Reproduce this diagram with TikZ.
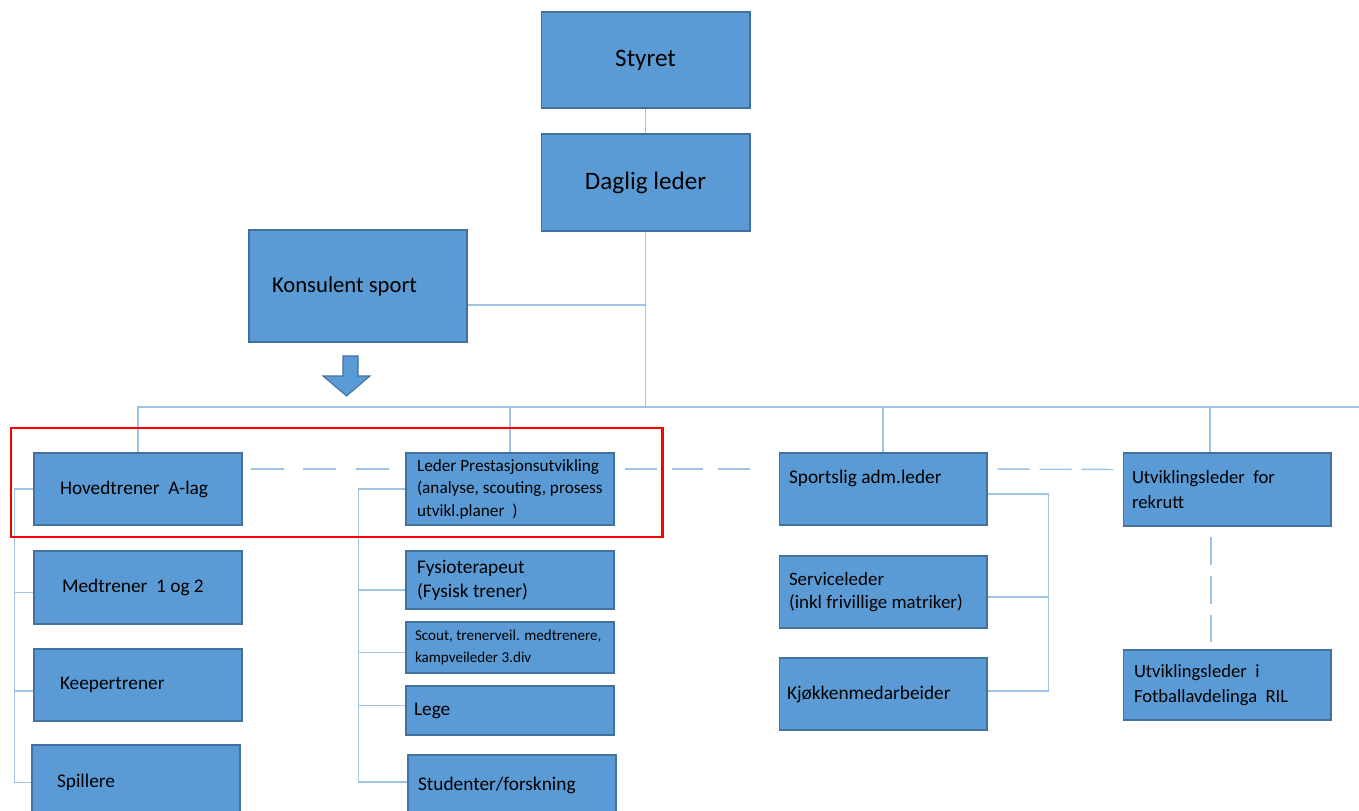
\documentclass[tikz,border=0pt]{standalone}
\usepackage{fontspec}
\setmainfont{Carlito}
\definecolor{boxfill}{RGB}{91,155,213}
\definecolor{boxedge}{RGB}{65,113,156}
\definecolor{linkblue}{RGB}{157,195,230}
\tikzset{
    unit/.style={draw=boxedge, fill=boxfill, line width=0.6pt, inner ysep=0pt,
        minimum width=4.16cm, minimum height=1.44cm, align=left,
        font=\fontsize{11}{13.6}\selectfont,
        execute at begin node={\spaceskip=0pt\xspaceskip=0pt\hyphenpenalty=10000\relax}},
    link/.style={draw=linkblue, line width=0.8pt},
    peer/.style={link, dash pattern=on 0.66cm off 0.4cm},
    frame/.style={draw=red, line width=1.7pt}
}
\begin{document}
\begin{tikzpicture}[x=0.02cm, y=-0.02cm]
    \useasboundingbox (0,0) rectangle (1359,811);

    % top of the tree
    \node[unit, minimum width=4.18cm, minimum height=1.92cm, align=center,
        font=\fontsize{14.3}{17}\selectfont] (styret) at (645.5,60) {Styret};
    \node[unit, minimum width=4.18cm, minimum height=1.94cm, align=center,
        font=\fontsize{14.3}{17}\selectfont] (daglig) at (645.5,182.5) {Daglig leder};
    \node[unit, minimum width=4.36cm, minimum height=2.24cm, inner xsep=0.46cm,
        text width=3.44cm, font=\fontsize{12.9}{15}\selectfont] (konsulent) at (358,286) {Konsulent sport\\[0.2cm]};

    % row of leaders
    \node[unit, inner xsep=0.52cm, text width=3.12cm] (hoved) at (138,489) {Hovedtrener\ \ A-lag};
    \node[unit, inner xsep=0.22cm, text width=3.72cm,
        font=\fontsize{9.8}{12.8}\selectfont] (leder) at (510,489)
        {Leder Prestasjonsutvikling\\(analyse, scouting, prosess\\utvikl.planer\ \ )};
    \node[unit, inner xsep=0.2cm, text width=3.76cm] (sport) at (883,489) {Sportslig adm.leder\\ \mbox{}};
    \node[unit, inner xsep=0.18cm, text width=3.8cm, minimum height=1.46cm,
        font=\fontsize{10.6}{14.6}\selectfont] (rekrutt) at (1227,489.5) {Utviklingsleder\ \ for\\rekrutt};

    % under Hovedtrener
    \node[unit, inner xsep=0.56cm, text width=3.04cm, minimum height=1.46cm] (med) at (138,587.5) {Medtrener\ \ 1 og 2};
    \node[unit, inner xsep=0.52cm, text width=3.12cm] (keeper) at (138,685) {Keepertrener};
    \node[unit, inner xsep=0.5cm, text width=3.16cm, minimum height=1.5cm] (spill) at (136,782.5) {Spillere};

    % under Leder Prestasjonsutvikling
    \node[unit, inner xsep=0.22cm, text width=3.72cm, minimum height=1.16cm] (fysio) at (510,580) {Fysioterapeut\\(Fysisk trener)};
    \node[unit, inner xsep=0.18cm, text width=3.8cm, minimum height=1.02cm,
        font=\fontsize{8.6}{12.4}\selectfont] (scout) at (510,647.5) {Scout, trenerveil. medtrenere,\\kampveileder 3.div};
    \node[unit, inner xsep=0.16cm, text width=3.84cm, minimum height=0.98cm] (lege) at (510,710.5) {Lege};
    \node[unit, inner xsep=0.2cm, text width=3.76cm, minimum height=1.2cm] (stud) at (512,785) {Studenter/forskning};

    % under Sportslig adm.leder
    \node[unit, inner xsep=0.2cm, text width=3.76cm,
        font=\fontsize{10.8}{13.6}\selectfont] (service) at (883,592) {Serviceleder\\(inkl frivillige matriker)};
    \node[unit, inner xsep=0.16cm, text width=3.84cm] (kjokken) at (883,694) {Kjøkkenmedarbeider};

    % under Utviklingsleder
    \node[unit, inner xsep=0.22cm, text width=3.72cm, minimum height=1.4cm,
        font=\fontsize{10.6}{14.2}\selectfont] (ril) at (1227,685) {Utviklingsleder\ \ i\\Fotballavdelinga\ \ RIL};

    % arrow under Konsulent sport
    \draw[boxedge, fill=boxfill, line width=0.6pt] (343,356) -- (358,356) -- (358,376) -- (370,376)
        -- (346.5,396) -- (323,376) -- (343,376) -- cycle;

    % connectors
    \coordinate (busend) at (1359,407);
    \draw[link] (styret) -- (daglig);
    \draw[link] (daglig.south) -- (daglig.south |- busend);
    \draw[link] ([yshift=-0.38cm]konsulent.east) -| (daglig.south);
    \draw[link] (hoved.north) |- (busend);
    \draw[link] (leder.north) -- (leder.north |- busend);
    \draw[link] (sport.north) -- (sport.north |- busend);
    \draw[link] ([xshift=-0.34cm]rekrutt.north) -- ([xshift=-0.34cm]rekrutt.north |- busend);

    \draw[link] (hoved.west) -- ++(-19,0) |- (spill.west);
    \draw[link] ([yshift=-0.1cm]med.west) -- ++(-19,0);
    \draw[link] ([yshift=-0.12cm]keeper.west) -- ++(-19,0);

    \draw[link] (leder.west) -- ++(-47,0) |- ([yshift=0.06cm]stud.west);
    \draw[link] ([yshift=-0.2cm]fysio.west) -- ++(-47,0);
    \draw[link] ([yshift=-0.1cm]scout.west) -- ++(-47,0);
    \draw[link] ([yshift=0.1cm]lege.west) -- ++(-47,0);

    \draw[link] ([yshift=-0.1cm]sport.east) -- ++(61,0) |- ([yshift=0.06cm]kjokken.east);
    \draw[link] ([yshift=-0.1cm]service.east) -- ++(61,0);

    % dashed links between the leaders
    \draw[peer, shorten <=0.16cm, shorten >=0.28cm] ([yshift=0.4cm]hoved.east) -- ([yshift=0.4cm]leder.west);
    \draw[peer, dash pattern=on 0.64cm off 0.3cm, shorten <=0.2cm, shorten >=0.52cm] ([yshift=0.4cm]leder.east) -- ([yshift=0.4cm]sport.west);
    \draw[peer, dash pattern=on 0.64cm off 0.2cm, shorten <=0.2cm, shorten >=0.16cm] ([yshift=0.4cm]sport.east) -- ([yshift=0.4cm]rekrutt.west);
    \draw[peer, dash pattern=on 0.56cm off 0.22cm, shorten <=0.2cm, shorten >=0.14cm] ([xshift=-0.32cm]rekrutt.south) -- ([xshift=-0.32cm]ril.north);

    % highlight
    \draw[frame] (11,428) rectangle (662,537);
\end{tikzpicture}
\end{document}
